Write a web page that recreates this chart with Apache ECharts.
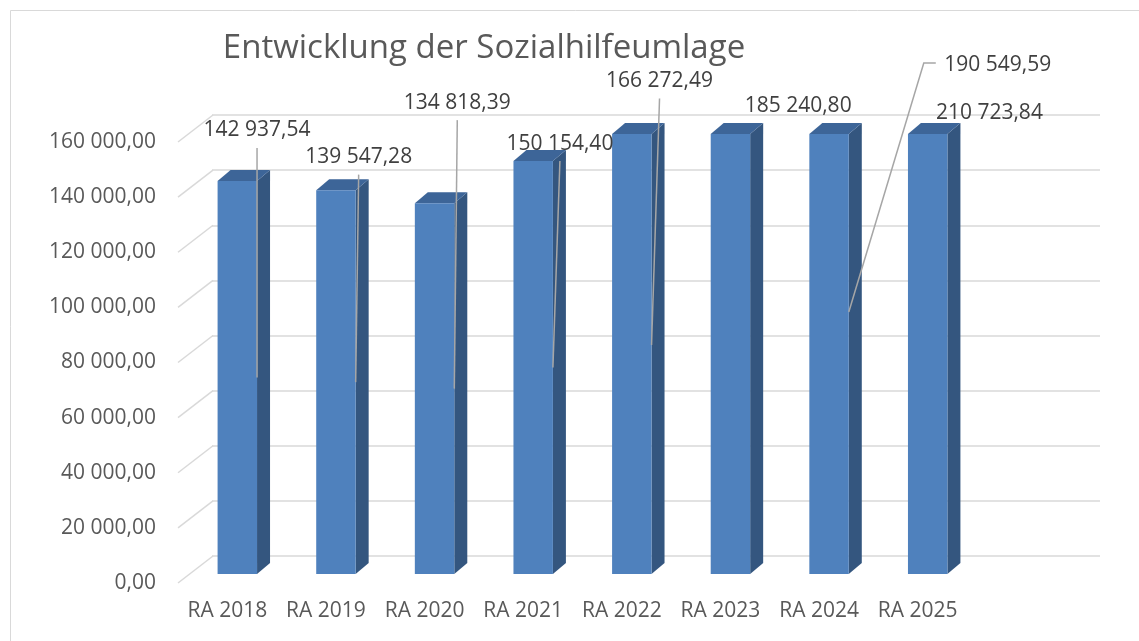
<!DOCTYPE html>
<html>
<head>
<meta charset="utf-8">
<script src="https://cdn.jsdelivr.net/npm/echarts@6/dist/echarts.min.js"></script>
<style>
    html, body { margin: 0; padding: 0; background: #fff; }
    #chart { width: 1139px; height: 641px; }
</style>
</head>
<body>
<div id="chart"></div>
<script>
'use strict';
// data
var categories = ['RA 2018', 'RA 2019', 'RA 2020', 'RA 2021', 'RA 2022', 'RA 2023', 'RA 2024', 'RA 2025'];
var values = [142937.54, 139547.28, 134818.39, 150154.40, 166272.49, 185240.80, 190549.59, 210723.84];
var yMax = 160000;
var yStep = 20000;
var yTicks = [0, 20000, 40000, 60000, 80000, 100000, 120000, 140000, 160000];

// where the data labels were dragged to (pixels from bar right edge / mid height)
var labelSpots = [
    { dx: 0, dy: -247, line: 'v', ady: 0 },
    { dx: 3, dy: -225, line: 'v', ady: 0 },
    { dx: 3, dy: -286, line: 'v', ady: 0 },
    { dx: 7, dy: -224, line: 'v', ady: 0 },
    { dx: 8, dy: -273, line: 'v', ady: -9 },
    { dx: 48, dy: -248, line: null, ady: 0 },
    { dx: 149, dy: -289, line: 'elbow', ady: -42 },
    { dx: 42, dy: -241, line: null, ady: 0 }
];

var FONT = '"Open Sans", "Noto Sans", sans-serif';
var DEPTH_X = 13, DEPTH_Y = -11;
var FLOOR_X = 35, FLOOR_Y = -27;

function fmt(v) {
    var parts = v.toFixed(2).split('.');
    return parts[0].replace(/\B(?=(\d{3})+(?!\d))/g, ' ') + ',' + parts[1];
}

var chart = echarts.init(document.getElementById('chart'));

var option = {
    backgroundColor: '#fff',
    animation: false,
    title: {
        text: 'Entwicklung der Sozialhilfeumlage',
        left: 479,
        top: 27,
        textAlign: 'center',
        textStyle: { fontFamily: FONT, fontSize: 33, fontWeight: 'normal', color: '#595959' }
    },
    graphic: [{
        type: 'rect',
        shape: { x: 10.5, y: 10.5, width: 1140, height: 640 },
        style: { fill: 'none', stroke: '#d9d9d9', lineWidth: 1 },
        silent: true
    }],
    grid: [
        // back wall
        { left: 212, right: 39, top: 115, bottom: 85 },
        // front edge of the floor, carries the axis labels
        { left: 178, right: 172, top: 142, bottom: 58 },
        // plane of the bars
        { left: 188, right: 162, top: 134, bottom: 67 }
    ],
    xAxis: [
        { gridIndex: 0, type: 'category', data: categories, show: false },
        {
            gridIndex: 1, type: 'category', data: categories,
            axisLine: { show: false }, axisTick: { show: false },
            axisLabel: { interval: 0, margin: 18, fontFamily: FONT, fontSize: 21, color: '#595959' }
        },
        { gridIndex: 2, type: 'category', data: categories, show: false }
    ],
    yAxis: [
        {
            gridIndex: 0, type: 'value', min: 0, max: yMax, interval: yStep,
            axisLine: { show: false }, axisTick: { show: false }, axisLabel: { show: false },
            splitLine: { lineStyle: { color: '#d9d9d9', width: 1.5 } }
        },
        {
            gridIndex: 1, type: 'value', min: 0, max: yMax, interval: yStep,
            axisLine: { show: false }, axisTick: { show: false }, splitLine: { show: false },
            axisLabel: { margin: 22, fontFamily: FONT, fontSize: 21, color: '#595959', formatter: fmt }
        },
        {
            gridIndex: 2, type: 'value', min: 0, max: yMax, interval: yStep, show: false,
            splitLine: { show: false }
        }
    ],
    series: [
        {
            // floor lines from the front edge to the back wall
            type: 'custom',
            xAxisIndex: 1,
            yAxisIndex: 1,
            silent: true,
            clip: false,
            data: yTicks.map(function(t) { return [0, t]; }),
            renderItem: function(params, api) {
                var p = api.coord([0, api.value(1)]);
                var x0 = params.coordSys.x;
                return {
                    type: 'line',
                    shape: { x1: x0, y1: p[1], x2: x0 + FLOOR_X, y2: p[1] + FLOOR_Y },
                    style: { stroke: '#d9d9d9', lineWidth: 1.5 }
                };
            }
        },
        {
            // 3d columns, cut at the axis max
            type: 'custom',
            xAxisIndex: 2,
            yAxisIndex: 2,
            clip: false,
            data: values.map(function(v, i) { return [i, v]; }),
            renderItem: function(params, api) {
                var i = api.value(0);
                var v = Math.min(api.value(1), yMax);
                var top = api.coord([i, v]);
                var base = api.coord([i, 0]);
                var half = api.size([1, 0])[0] * 0.2;
                var x0 = top[0] - half, x1 = top[0] + half;
                return {
                    type: 'group',
                    children: [{
                        type: 'polygon',
                        shape: { points: [[x1, top[1]], [x1 + DEPTH_X, top[1] + DEPTH_Y], [x1 + DEPTH_X, base[1] + DEPTH_Y], [x1, base[1]]] },
                        style: { fill: '#34567f' }
                    }, {
                        type: 'polygon',
                        shape: { points: [[x0, top[1]], [x0 + DEPTH_X, top[1] + DEPTH_Y], [x1 + DEPTH_X, top[1] + DEPTH_Y], [x1, top[1]]] },
                        style: { fill: '#3d6598' }
                    }, {
                        type: 'rect',
                        shape: { x: x0, y: top[1], width: x1 - x0, height: base[1] - top[1] },
                        style: { fill: '#4f81bd' }
                    }]
                };
            }
        },
        {
            // data labels with leader lines
            type: 'custom',
            xAxisIndex: 2,
            yAxisIndex: 2,
            clip: false,
            z: 5,
            data: values.map(function(v, i) { return [i, v]; }),
            renderItem: function(params, api) {
                var i = api.value(0);
                var raw = api.value(1);
                var v = Math.min(raw, yMax);
                var top = api.coord([i, v]);
                var base = api.coord([i, 0]);
                var half = api.size([1, 0])[0] * 0.2;
                var s = labelSpots[i];
                var ax = top[0] + half;
                var mid = (top[1] + base[1]) / 2;
                var lx = ax + s.dx, ly = mid + s.dy;
                var kids = [];
                if (s.line === 'v') {
                    kids.push({
                        type: 'polyline',
                        shape: { points: [[lx, ly + 17.5], [ax, mid + s.ady]] },
                        style: { stroke: '#a6a6a6', lineWidth: 1.5, fill: null }
                    });
                } else if (s.line === 'elbow') {
                    kids.push({
                        type: 'polyline',
                        shape: { points: [[lx - 62, ly - 2], [lx - 74, ly - 2], [ax, mid + s.ady]] },
                        style: { stroke: '#a6a6a6', lineWidth: 1.5, fill: null }
                    });
                }
                kids.push({
                    type: 'text',
                    style: {
                        text: fmt(raw), x: lx, y: ly,
                        align: 'center', verticalAlign: 'middle',
                        fontFamily: FONT, fontSize: 21, fill: '#404040'
                    }
                });
                return { type: 'group', children: kids };
            }
        }
    ]
};
chart.setOption(option);
</script>
</body>
</html>
